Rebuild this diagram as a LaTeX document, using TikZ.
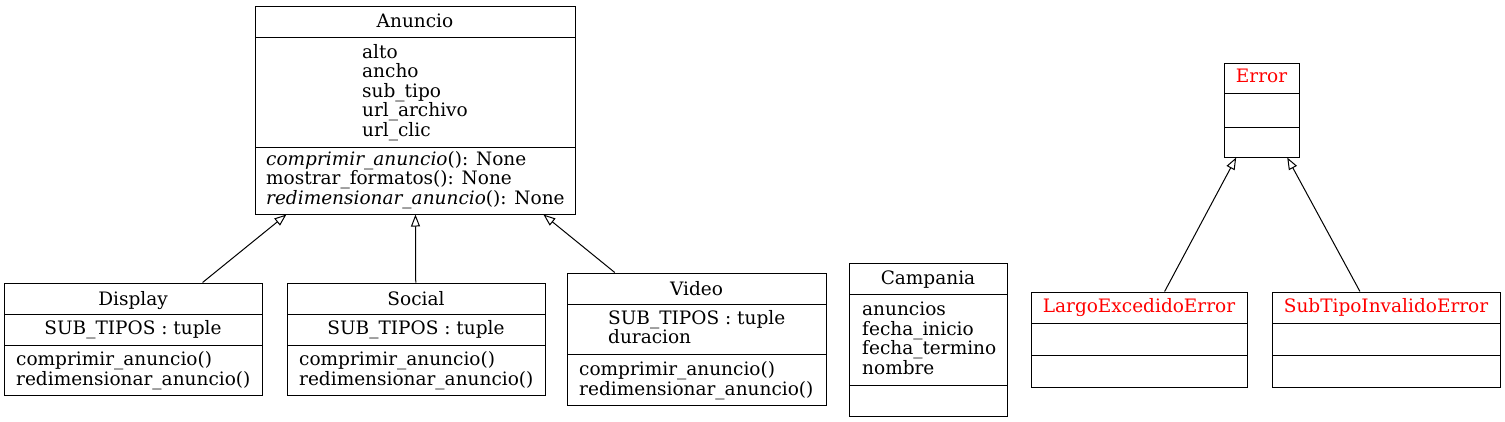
\documentclass[tikz,border=0pt]{standalone}
\usepackage{fontspec}
\setmainfont{DejaVu Serif}
\usepackage{tikz}
\usetikzlibrary{arrows.meta}
\tikzset{
  every node/.style={font=\fontsize{18.5}{19.5}\selectfont},
  classbox/.style={draw, line width=1, inner sep=0, fill=none},
  ctitle/.style={anchor=base, inner sep=0},
  cleft/.style={anchor=base west, align=left, inner sep=0},
  inherits/.style={line width=1, -{Triangle[open, length=12pt, width=9pt]}}
}
% class frame: name, x1, y1, x2, y2, first rule, second rule
\newcommand{\umlclass}[7]{\node[classbox, minimum width={#4-#2}, minimum height={#5-#3}] (#1) at ({(#2+#4)/2},{(#3+#5)/2}) {}; \draw[line width=1] (#2,#6) -- (#4,#6); \draw[line width=1] (#2,#7) -- (#4,#7);}

\begin{document}
\begin{tikzpicture}[x=1pt, y=-1pt]
        \useasboundingbox (0,0) rectangle (1505,421);
        % frames
        \umlclass{anuncio}{255}{6}{575}{214}{37}{147}
        \umlclass{display}{4}{283}{262}{395}{314}{345}
        \umlclass{social}{287}{283}{545}{395}{314}{345}
        \umlclass{video}{567}{273}{826}{405}{304}{354}
        \umlclass{campania}{849}{263}{1007}{416}{294}{385}
        \umlclass{error}{1224}{63}{1299}{157}{93}{127}
        \umlclass{largo}{1031}{292}{1247}{387}{323}{355}
        \umlclass{subtipo}{1272}{292}{1500}{387}{323}{355}
        % Anuncio (multi-line blocks sit on their last baseline)
        \node[ctitle] (anuncio-name) at (415,27) {Anuncio};
        \node[cleft] (anuncio-attr) at (362,136) {alto\\ancho\\sub\_tipo\\url\_archivo\\url\_clic};
        \node[cleft] (anuncio-ops) at (266,204) {\textit{comprimir\_anuncio}(): None\\mostrar\_formatos(): None\\\textit{redimensionar\_anuncio}(): None};
        % Display
        \node[ctitle] (display-name) at (133,305) {Display};
        \node[ctitle] (display-attr) at (133,334) {SUB\_TIPOS : tuple};
        \node[cleft] (display-ops) at (16,385) {comprimir\_anuncio()\\redimensionar\_anuncio()};
        % Social
        \node[ctitle] (social-name) at (416,305) {Social};
        \node[ctitle] (social-attr) at (416,334) {SUB\_TIPOS : tuple};
        \node[cleft] (social-ops) at (299,385) {comprimir\_anuncio()\\redimensionar\_anuncio()};
        % Video
        \node[ctitle] (video-name) at (696.5,295) {Video};
        \node[cleft] (video-attr) at (608,343.5) {SUB\_TIPOS : tuple\\duracion};
        \node[cleft] (video-ops) at (579,395) {comprimir\_anuncio()\\redimensionar\_anuncio()};
        % Campania
        \node[ctitle] (campania-name) at (928,284) {Campania};
        \node[cleft] (campania-attr) at (862,374) {anuncios\\fecha\_inicio\\fecha\_termino\\nombre};
        % errors
        \node[ctitle, text=red] (error-name) at (1261.5,82) {Error};
        \node[ctitle, text=red] (largo-name) at (1139,312) {LargoExcedidoError};
        \node[ctitle, text=red] (subtipo-name) at (1386,312) {SubTipoInvalidoError};
        % inheritance
        \draw[inherits] (display) -- (anuncio);
        \draw[inherits] (social) -- (anuncio);
        \draw[inherits] (video) -- (anuncio);
        \draw[inherits] (largo) -- (error);
        \draw[inherits] (subtipo) -- (error);
\end{tikzpicture}
\end{document}
